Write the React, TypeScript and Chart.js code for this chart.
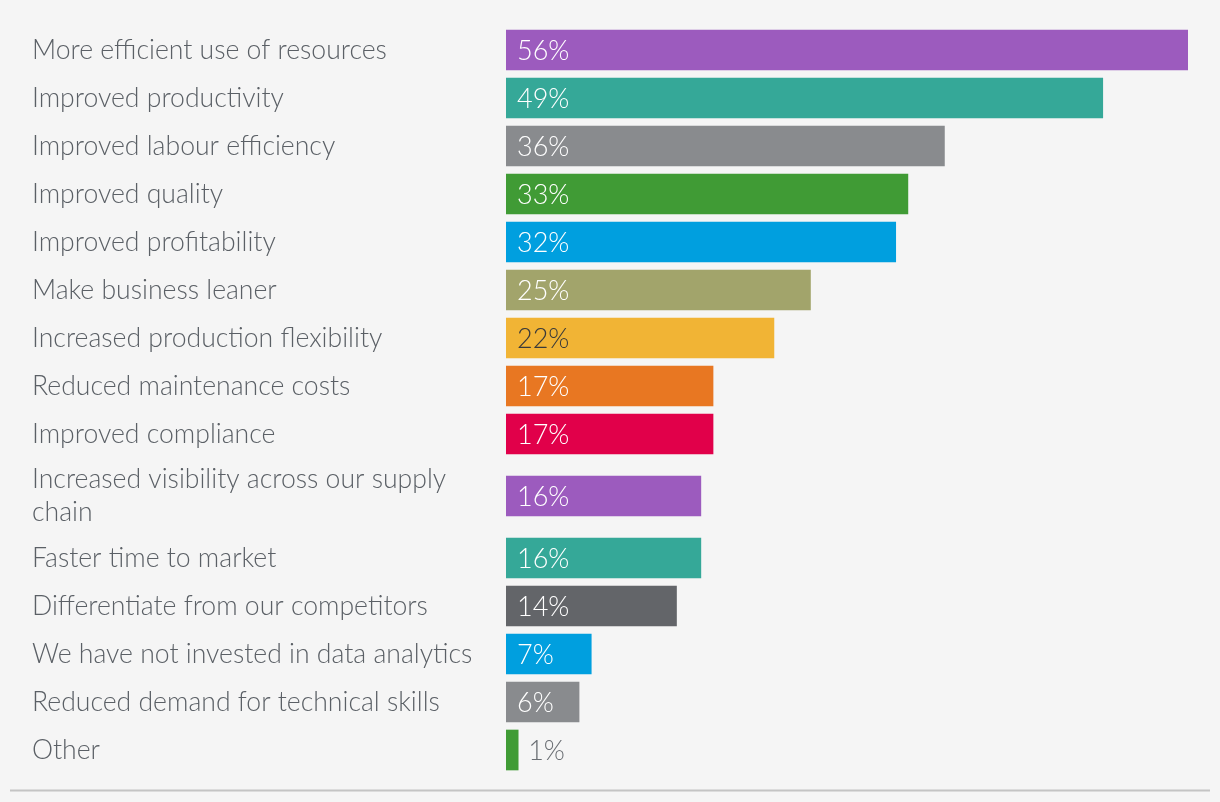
import React, { useEffect, useRef } from "react";
import { Chart, registerables } from "chart.js";

Chart.register(...registerables);

const categories: (string | string[])[] = [
  "More efficient use of resources",
  "Improved productivity",
  "Improved labour efficiency",
  "Improved quality",
  "Improved profitability",
  "Make business leaner",
  "Increased production flexibility",
  "Reduced maintenance costs",
  "Improved compliance",
  ["Increased visibility across our supply", "chain"],
  "Faster time to market",
  "Differentiate from our competitors",
  "We have not invested in data analytics",
  "Reduced demand for technical skills",
  "Other",
];

const values = [56, 49, 36, 33, 32, 25, 22, 17, 17, 16, 16, 14, 7, 6, 1];

const barColors = [
  "#9c5bbe",
  "#35a898",
  "#898b8e",
  "#409b35",
  "#009fdf",
  "#a2a46b",
  "#f1b435",
  "#e87722",
  "#e1004a",
  "#9c5bbe",
  "#35a898",
  "#636569",
  "#009fdf",
  "#898b8e",
  "#409b35",
];

const valueTextColors = [
  "#ffffff", "#ffffff", "#ffffff", "#ffffff", "#ffffff", "#ffffff",
  "#3a3a3a",
  "#ffffff", "#ffffff", "#ffffff", "#ffffff", "#ffffff", "#ffffff", "#ffffff",
  "#6a6e73",
];

const FONT_FAMILY = "Lato, Roboto, sans-serif";
const LABEL_SIZE = 26.6;
const VALUE_SIZE = 27;
const ROW_UNIT = 48;
const EXTRA_LINE_UNIT = 28;

// row centres derived from the number of label lines
const rowCenters: number[] = [];
let rowTotal = 0;
categories.forEach((c) => {
  const lines = Array.isArray(c) ? c.length : 1;
  const h = ROW_UNIT + (lines - 1) * EXTRA_LINE_UNIT;
  rowCenters.push(rowTotal + h / 2);
  rowTotal += h;
});

const valueLabelPlugin = {
  id: "valueLabels",
  afterDatasetsDraw(chart: any) {
    const ctx = chart.ctx;
    const meta = chart.getDatasetMeta(0);
    ctx.save();
    ctx.font = `300 ${VALUE_SIZE}px ${FONT_FAMILY}`;
    ctx.textBaseline = "middle";
    ctx.textAlign = "left";
    meta.data.forEach((bar: any, i: number) => {
      const { x, y, base } = bar.getProps(["x", "y", "base"], true);
      const text = values[i] + "%";
      const w = ctx.measureText(text).width;
      ctx.fillStyle = valueTextColors[i];
      if (x - base > w + 20) {
        ctx.fillText(text, base + 11, y + 1);
      } else {
        ctx.fillText(text, x + 10, y + 1);
      }
    });
    ctx.restore();
  },
  afterDraw(chart: any) {
    const ctx = chart.ctx;
    ctx.save();
    ctx.fillStyle = "#c4c4c4";
    ctx.fillRect(10, 789.5, 1200, 2);
    ctx.restore();
  },
};

export default function App() {
  const ref = useRef<HTMLCanvasElement | null>(null);

  useEffect(() => {
    document.body.style.margin = "0";
    document.body.style.background = "#f5f5f5";
    if (!ref.current) return;
    const chart = new Chart(ref.current, {
      type: "bar",
      data: {
        datasets: [
          {
            data: values.map((v, i) => ({ x: v, y: rowCenters[i] })),
            backgroundColor: barColors,
            barThickness: 40,
            borderWidth: 0,
          },
        ],
      },
      options: {
        indexAxis: "y",
        animation: false,
        responsive: false,
        events: [],
        layout: { padding: { left: 32, right: 32, top: 26, bottom: 28 } },
        plugins: {
          legend: { display: false },
          tooltip: { enabled: false },
        },
        scales: {
          x: {
            type: "linear",
            display: false,
            min: 0,
            max: 56,
          },
          y: {
            type: "linear",
            reverse: true,
            offset: false,
            min: 0,
            max: rowTotal,
            grid: { display: false, offset: false },
            border: { display: false },
            afterBuildTicks: (scale: any) => {
              scale.ticks = rowCenters.map((v) => ({ value: v }));
            },
            afterFit: (scale: any) => {
              scale.width = 506 - 32;
              scale.paddingTop = 0;
              scale.paddingBottom = 0;
            },
            ticks: {
              autoSkip: false,
              crossAlign: "far",
              padding: 0,
              color: "#5b6066",
              font: { family: FONT_FAMILY, size: LABEL_SIZE, weight: "300", lineHeight: 1.24 },
              callback: (_v: any, i: number) => categories[i],
            },
          },
        },
      },
      plugins: [valueLabelPlugin],
    });
    return () => chart.destroy();
  }, []);

  return (
    <div style={{ width: 1220, height: 802, background: "#f5f5f5" }}>
      <canvas ref={ref} width={1220} height={802} style={{ display: "block" }} />
    </div>
  );
}
